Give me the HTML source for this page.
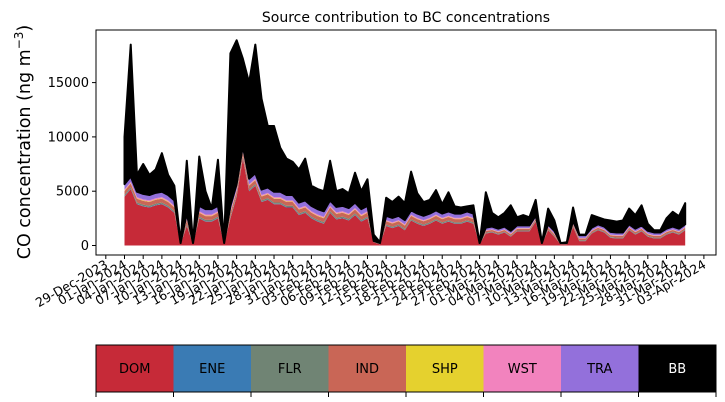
<!DOCTYPE html>
<html><head><meta charset="utf-8">
<style>
html,body{margin:0;padding:0;background:#fff;}
svg{display:block;font-family:"DejaVu Sans","Liberation Sans",sans-serif;}
</style></head>
<body>
<svg id="chart" width="725" height="402" viewBox="0 0 725 402" xmlns="http://www.w3.org/2000/svg">
<text x="406" y="22" font-size="14" text-anchor="middle">Source contribution to BC concentrations</text>
<text transform="translate(30,142) rotate(-90)" font-size="17.5" text-anchor="middle">CO concentration (ng m<tspan font-size="12" dy="-7">−3</tspan><tspan dy="7">)</tspan></text>
<g id="plot"></g>
<g id="legend"></g>
</svg>
<script>
const DOM=[4500,5200,3800,3600,3500,3700,3800,3500,3000,100,1800,100,2500,2200,2200,2500,100,2500,4500,8000,5000,5500,4000,4200,3800,3800,3500,3500,2800,3000,2500,2200,2000,3000,2400,2500,2300,2800,2200,2500,300,100,1800,1600,1800,1400,2300,2000,1800,2000,2300,2000,2200,2000,2000,2200,2000,100,1100,1200,1000,1200,800,1300,1300,1300,2200,100,1400,800,100,100,1700,400,400,1100,1400,1200,700,650,650,1400,1000,1300,800,650,650,1000,1200,1000,1400];
const ENE=[40,40,40,40,40,40,40,40,40,10,40,10,40,40,40,40,10,40,40,40,40,40,40,40,40,40,40,40,40,40,40,40,40,40,40,40,40,40,40,40,10,10,30,30,30,30,30,30,30,30,30,30,30,30,30,30,30,10,20,20,20,20,20,20,20,20,20,10,20,20,10,10,20,20,20,20,20,20,20,20,20,20,20,20,20,20,20,20,20,20,20];
const FLR=[120,120,120,120,120,120,120,120,120,10,120,10,120,120,120,120,10,120,120,120,120,120,120,120,120,120,120,120,120,120,120,120,120,120,120,120,120,120,120,120,10,10,100,100,100,100,100,100,100,100,100,100,100,100,100,100,100,10,60,60,60,60,60,60,60,60,60,10,60,60,10,10,60,60,60,60,60,60,60,60,60,60,60,60,60,60,60,60,60,60,60];
const IND=[350,350,350,350,350,350,350,350,350,30,350,30,350,350,350,350,30,350,350,350,350,350,350,350,350,350,350,350,350,350,350,350,350,350,350,350,350,350,350,350,30,30,300,300,300,300,300,300,300,300,300,300,300,300,300,300,300,30,150,150,150,150,150,150,150,150,150,30,150,150,30,30,150,150,150,150,150,150,150,150,150,150,150,150,150,150,150,150,150,150,150];
const SHP=[40,40,40,40,40,40,40,40,40,10,40,10,40,40,40,40,10,40,40,40,40,40,40,40,40,40,40,40,40,40,40,40,40,40,40,40,40,40,40,40,10,10,30,30,30,30,30,30,30,30,30,30,30,30,30,30,30,10,20,20,20,20,20,20,20,20,20,10,20,20,10,10,20,20,20,20,20,20,20,20,20,20,20,20,20,20,20,20,20,20,20];
const WST=[100,100,100,100,100,100,100,100,100,10,100,10,100,100,100,100,10,100,100,100,100,100,100,100,100,100,100,100,100,100,100,100,100,100,100,100,100,100,100,100,10,10,80,80,80,80,80,80,80,80,80,80,80,80,80,80,80,10,50,50,50,50,50,50,50,50,50,10,50,50,10,10,50,50,50,50,50,50,50,50,50,50,50,50,50,50,50,50,50,50,50];
const TRA=[500,500,500,500,500,500,500,500,500,50,500,50,500,500,500,500,50,500,500,500,500,500,500,500,500,500,500,500,500,500,500,500,500,500,500,500,500,500,500,500,50,50,400,400,400,400,400,400,400,400,400,400,400,400,400,400,400,50,250,250,250,250,250,250,250,250,250,50,250,250,50,50,250,250,250,250,250,250,250,250,250,250,250,250,250,250,250,250,250,250,250];
const BB=[4350,12150,1550,2750,1850,2150,3550,1850,1350,80,4850,0,4550,1650,50,4250,80,14050,13250,8050,8850,11850,8350,5650,6050,4050,3350,3050,3050,3850,1850,1850,1850,3650,1450,1550,1350,2750,1650,2450,580,80,1660,1460,1760,1560,3560,1860,1260,1260,1860,860,1760,660,560,460,760,0,3250,1250,1050,1250,2350,750,950,750,1450,0,1450,950,0,80,1250,50,50,1150,650,650,1050,1000,1100,1450,1250,1850,650,200,200,950,1350,1150,1950];
const LAYER_NAMES=["DOM","ENE","FLR","IND","SHP","WST","TRA","BB"];
const LAYER_COLORS=["#c62a38","#3a7bb4","#708474","#c96656","#e5d12e","#f283be","#9370db","#000000"];
const Y_TICKS=[0,5000,10000,15000];
const X_TICK_LABELS=["29-Dec-2023","01-Jan-2024","04-Jan-2024","07-Jan-2024","10-Jan-2024","13-Jan-2024","16-Jan-2024","19-Jan-2024","22-Jan-2024","25-Jan-2024","28-Jan-2024","31-Jan-2024","03-Feb-2024","06-Feb-2024","09-Feb-2024","12-Feb-2024","15-Feb-2024","18-Feb-2024","21-Feb-2024","24-Feb-2024","27-Feb-2024","01-Mar-2024","04-Mar-2024","07-Mar-2024","10-Mar-2024","13-Mar-2024","16-Mar-2024","19-Mar-2024","22-Mar-2024","25-Mar-2024","28-Mar-2024","31-Mar-2024","03-Apr-2024"];
const X_TICK_DAYS=[-3,0,3,6,9,12,15,18,21,24,27,30,33,36,39,42,45,48,51,54,57,60,63,66,69,72,75,78,81,84,87,90,93];

const NS="http://www.w3.org/2000/svg";
const L=96,T=30,R=716,B=255;
function xS(d){return 124.5+d*6.23;}
function yS(v){return 245.5-v*54.3/5000;}
function mk(tag,attrs,parent){const e=document.createElementNS(NS,tag);for(const k in attrs)e.setAttribute(k,attrs[k]);parent.appendChild(e);return e;}
const plot=document.getElementById('plot');
const layers=[DOM,ENE,FLR,IND,SHP,WST,TRA,BB];
const n=DOM.length;
let base=new Array(n).fill(0);
layers.forEach((arr,li)=>{
  const top=base.map((b,i)=>b+arr[i]);
  let d="M"+xS(0)+","+yS(top[0]);
  for(let i=1;i<n;i++)d+="L"+xS(i)+","+yS(top[i]);
  for(let i=n-1;i>=0;i--)d+="L"+xS(i)+","+yS(base[i]);
  d+="Z";
  const p=mk('path',{d:d,fill:LAYER_COLORS[li],stroke:li===7?"#000":"none","stroke-width":li===7?2:0,"stroke-linejoin":"round"},plot);
  
  
  base=top;
});
const frame=mk('rect',{x:L,y:T,width:R-L,height:B-T,fill:"none",stroke:"#000","stroke-width":1},plot);


Y_TICKS.forEach(v=>{
  const y=yS(v);
  const t=mk('line',{x1:L-4,x2:L,y1:y,y2:y,stroke:"#000"},plot);
  
  
  const tx=mk('text',{x:L-7,y:y+4.5,"font-size":13,"text-anchor":"end"},plot);
  tx.textContent=String(v);
  
  
});
X_TICK_DAYS.forEach((d,i)=>{
  const x=xS(d);
  const t=mk('line',{x1:x,x2:x,y1:B,y2:B+4,stroke:"#000"},plot);
  
  
  const tx=mk('text',{transform:"translate("+(x+3)+","+(B+12)+") rotate(-30)","font-size":12.5,"text-anchor":"end"},plot);
  tx.textContent=X_TICK_LABELS[i];
  
  
});
const leg=document.getElementById('legend');
const cw=(716-96)/8;
LAYER_NAMES.forEach((nm,i)=>{
  const r=mk('rect',{x:96+i*cw,y:345,width:cw+0.5,height:47,fill:LAYER_COLORS[i]},leg);
  
  
  const tx=mk('text',{x:96+i*cw+cw/2,y:373,"font-size":13,"text-anchor":"middle",fill:nm==="BB"?"#fff":"#000"},leg);
  tx.textContent=nm;
  
  
});
const lf=mk('rect',{x:96,y:345,width:620,height:47,fill:"none",stroke:"#000","stroke-width":1},leg);


for(let k=0;k<=8;k++){
  const x=96+k*cw;
  const t=mk('line',{x1:x,x2:x,y1:392,y2:397,stroke:"#000"},leg);
  
  
}
</script>
</body></html>
